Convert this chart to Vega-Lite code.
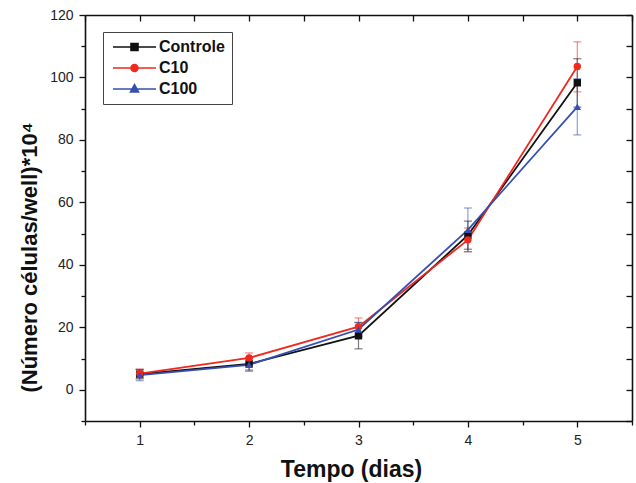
{
  "$schema": "https://vega.github.io/schema/vega-lite/v6.json",
  "width": 547,
  "height": 406,
  "autosize": {"type": "none"},
  "padding": {"left": 85, "top": 15, "right": 4, "bottom": 62},
  "background": "white",
  "config": {
    "view": {"stroke": null},
    "font": "Liberation Sans",
    "axis": {
      "domainColor": "#111",
      "domainWidth": 1.6,
      "tickColor": "#111",
      "tickWidth": 1.3,
      "labelFont": "Liberation Sans",
      "labelFontSize": 14,
      "labelColor": "#222",
      "titleFont": "Liberation Sans",
      "titleFontWeight": "bold",
      "titleFontSize": 22,
      "titleColor": "#111",
      "grid": false
    }
  },
  "datasets": {
    "cells": [
      {"series": "Controle", "day": 1, "mean": 5.0, "lo": 3.5, "hi": 6.5},
      {"series": "Controle", "day": 2, "mean": 8.3, "lo": 6.3, "hi": 10.3},
      {"series": "Controle", "day": 3, "mean": 17.3, "lo": 13.1, "hi": 21.5},
      {"series": "Controle", "day": 4, "mean": 49.5, "lo": 45.0, "hi": 54.0},
      {"series": "Controle", "day": 5, "mean": 98.3, "lo": 90.5, "hi": 106.0},
      {"series": "C10", "day": 1, "mean": 5.2, "lo": 3.8, "hi": 6.6},
      {"series": "C10", "day": 2, "mean": 10.2, "lo": 8.6, "hi": 11.8},
      {"series": "C10", "day": 3, "mean": 20.2, "lo": 17.5, "hi": 23.0},
      {"series": "C10", "day": 4, "mean": 48.0, "lo": 44.2, "hi": 51.8},
      {"series": "C10", "day": 5, "mean": 103.5, "lo": 95.4, "hi": 111.4},
      {"series": "C100", "day": 1, "mean": 4.7, "lo": 2.9, "hi": 6.5},
      {"series": "C100", "day": 2, "mean": 8.0, "lo": 5.9, "hi": 9.8},
      {"series": "C100", "day": 3, "mean": 19.3, "lo": 17.0, "hi": 21.6},
      {"series": "C100", "day": 4, "mean": 51.2, "lo": 44.2, "hi": 58.2},
      {"series": "C100", "day": 5, "mean": 90.6, "lo": 81.6, "hi": 99.6}
    ]
  },
  "data": {"name": "cells"},
  "layer": [
    {
      "mark": {"type": "rule", "strokeWidth": 1.2, "opacity": 0.55},
      "encoding": {
        "x": {"field": "day", "type": "quantitative",
          "scale": {"domain": [0.5, 5.5], "nice": false, "zero": false},
          "axis": {"orient": "top", "values": [0.5,1,1.5,2,2.5,3,3.5,4,4.5,5,5.5], "labels": false, "tickSize": -6, "title": null}},
        "y": {"field": "lo", "type": "quantitative",
          "scale": {"domain": [-10, 120], "nice": false, "zero": false}, "axis": null},
        "y2": {"field": "hi"},
        "color": {"field": "series", "type": "nominal",
          "scale": {"domain": ["Controle", "C10", "C100"], "range": ["#111111", "#f0281e", "#3550b0"]}, "legend": null}
      }
    },
    {
      "mark": {"type": "tick", "orient": "horizontal", "size": 8, "thickness": 1.2, "opacity": 0.55},
      "encoding": {
        "x": {"field": "day", "type": "quantitative", "axis": null},
        "y": {"field": "lo", "type": "quantitative", "axis": null},
        "color": {"field": "series", "type": "nominal", "legend": null}
      }
    },
    {
      "mark": {"type": "tick", "orient": "horizontal", "size": 8, "thickness": 1.2, "opacity": 0.55},
      "encoding": {
        "x": {"field": "day", "type": "quantitative", "axis": null},
        "y": {"field": "hi", "type": "quantitative", "axis": null},
        "color": {"field": "series", "type": "nominal", "legend": null}
      }
    },
    {
      "mark": {"type": "line", "strokeWidth": 1.8},
      "encoding": {
        "x": {"field": "day", "type": "quantitative",
          "axis": {"orient": "bottom", "values": [0.5,1,1.5,2,2.5,3,3.5,4,4.5,5,5.5],
            "labelExpr": "datum.value % 1 === 0 ? format(datum.value, 'd') : ''",
            "tickSize": {"condition": {"test": "datum.value % 1 !== 0", "value": 4}, "value": 6},
            "labelPadding": 6, "title": "Tempo (dias)", "titleFontSize": 23, "titleX": 266, "titlePadding": 11}},
        "y": {"field": "mean", "type": "quantitative",
          "axis": {"orient": "left", "values": [-10,0,10,20,30,40,50,60,70,80,90,100,110,120],
            "labelExpr": "datum.value % 20 === 0 ? datum.label : ''",
            "tickSize": {"condition": {"test": "datum.value % 20 !== 0", "value": 4}, "value": 6},
            "labelPadding": 6, "title": "(Número células/well)*10⁴", "titleY": 242, "titlePadding": 8}},
        "color": {"field": "series", "type": "nominal", "legend": null},
        "detail": {"field": "series"}
      }
    },
    {
      "mark": {"type": "point", "filled": true, "opacity": 1, "size": 55},
      "encoding": {
        "x": {"field": "day", "type": "quantitative", "axis": null},
        "y": {"field": "mean", "type": "quantitative",
          "axis": {"orient": "right", "values": [-10,0,10,20,30,40,50,60,70,80,90,100,110,120], "labels": false, "tickSize": -6, "title": null}},
        "color": {"field": "series", "type": "nominal", "legend": null},
        "shape": {"field": "series", "type": "nominal",
          "scale": {"domain": ["Controle", "C10", "C100"], "range": ["square", "circle", "triangle-up"]}, "legend": null}
      }
    },
    {
      "data": {"values": []},
      "mark": {"type": "point", "filled": true, "opacity": 1, "size": 100, "strokeWidth": 1.6},
      "encoding": {
        "x": {"field": "day", "type": "quantitative", "axis": null},
        "y": {"field": "mean", "type": "quantitative", "axis": null},
        "color": {"field": "series", "type": "nominal",
          "legend": {"orient": "none", "legendX": 18, "legendY": 17, "title": null,
            "padding": 7, "strokeColor": "#444", "fillColor": "white",
            "labelFont": "Liberation Sans", "labelFontSize": 16, "labelFontWeight": "bold", "labelColor": "#111",
            "labelOffset": 33, "rowPadding": 5, "symbolSize": 100, "symbolStrokeWidth": 1.6}},
        "stroke": {"field": "series", "type": "nominal",
          "scale": {"domain": ["Controle", "C10", "C100"], "range": ["#111111", "#f0281e", "#3550b0"]},
          "legend": {"orient": "none", "legendX": 18, "legendY": 17, "title": null,
            "padding": 7, "strokeColor": "#444", "fillColor": "white",
            "labelFont": "Liberation Sans", "labelFontSize": 16, "labelFontWeight": "bold", "labelColor": "#111",
            "labelOffset": 33, "rowPadding": 5, "symbolSize": 100, "symbolStrokeWidth": 1.6}},
        "shape": {"field": "series", "type": "nominal",
          "scale": {"domain": ["Controle", "C10", "C100"],
            "range": ["M-1,0H7.6M2.6,-0.7H4V0.7H2.6Z",
                      "M-1,0H7.6M4,0A0.7,0.7 0 1 1 2.6,0A0.7,0.7 0 1 1 4,0Z",
                      "M-1,0H7.6M3.3,-0.85L4.1,0.6H2.5Z"]},
          "legend": {"orient": "none", "legendX": 18, "legendY": 17, "title": null,
            "padding": 7, "strokeColor": "#444", "fillColor": "white",
            "labelFont": "Liberation Sans", "labelFontSize": 16, "labelFontWeight": "bold", "labelColor": "#111",
            "labelOffset": 33, "rowPadding": 5, "symbolSize": 100, "symbolStrokeWidth": 1.6}}
      }
    }
  ],
  "resolve": {
    "scale": {"shape": "independent"},
    "axis": {"x": "independent", "y": "independent"},
    "legend": {"color": "independent", "shape": "independent", "stroke": "independent"}
  }
}
